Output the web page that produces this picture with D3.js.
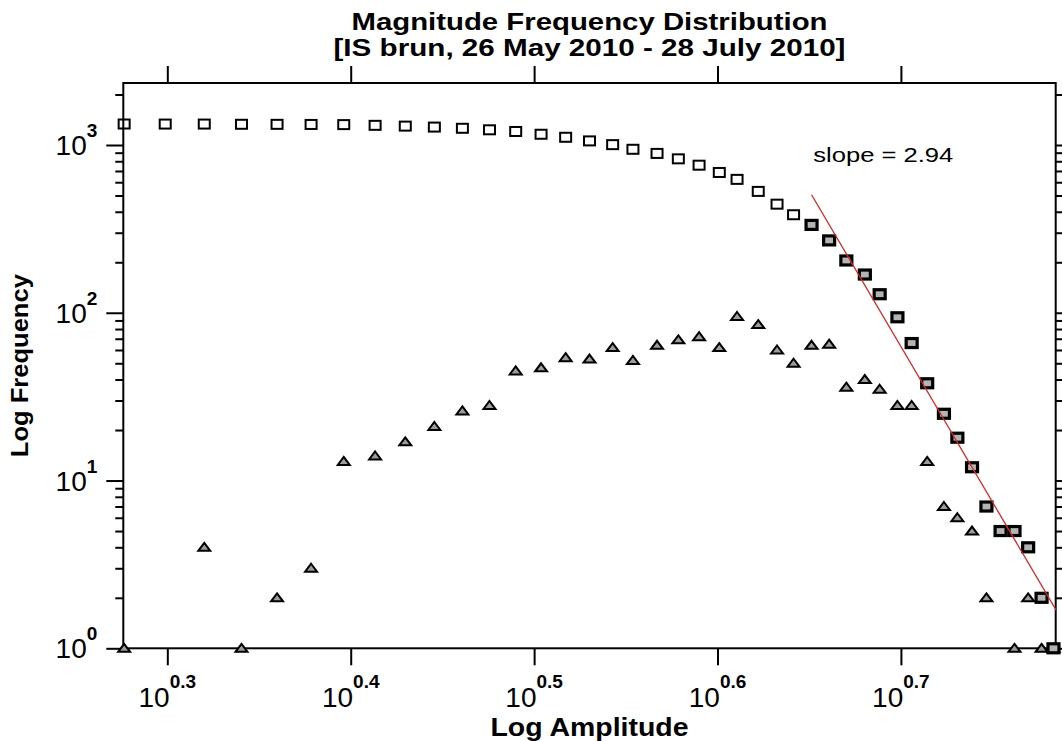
<!DOCTYPE html>
<html>
<head>
<meta charset="utf-8">
<script src="https://cdn.jsdelivr.net/npm/d3@7"></script>
<style>
  body { margin: 0; background: #fff; }
  svg { display: block; }
  text { font-family: "Liberation Sans", Arial, sans-serif; fill: #000; }
</style>
</head>
<body>
<div id="chart"></div>
<script>
// amplitude bins
var amplitude = [1.89, 1.99, 2.09, 2.19, 2.29, 2.39, 2.49, 2.59, 2.69, 2.79,
                 2.89, 2.99, 3.09, 3.19, 3.29, 3.39, 3.49, 3.58, 3.69, 3.79,
                 3.89, 3.99, 4.08, 4.19, 4.29, 4.38, 4.48, 4.58, 4.68, 4.79,
                 4.88, 4.99, 5.08, 5.18, 5.29, 5.38, 5.48, 5.58, 5.68, 5.78,
                 5.88, 5.98, 6.07];

// squares: cumulative number of events
var cumulative = [1334, 1333, 1333, 1329, 1328, 1326, 1323, 1310, 1296, 1279,
                  1258, 1232, 1204, 1159, 1112, 1058, 1005, 943, 891, 827,
                  758, 686, 624, 529, 444, 384, 334, 270, 205, 169,
                  129, 94, 66, 38, 25, 18, 12, 7, 5, 5,
                  4, 2, 1];

// triangles: events per bin (0 = not drawn on log axis)
var perBin = [1, 0, 4, 1, 2, 3, 13, 14, 17, 21,
              26, 28, 45, 47, 54, 53, 62, 52, 64, 69,
              72, 62, 95, 85, 60, 50, 64, 65, 36, 40,
              35, 28, 28, 13, 7, 6, 5, 2, 0, 1,
              2, 1, 1];

// first bin used for the fit (filled squares)
var fitFrom = 26;

// fitted line end points
var fitAmplitude = [4.48, 6.09];
var fitCount = [505, 1.69];
var slopeLabel = "slope = 2.94";

var xTickExp = [0.3, 0.4, 0.5, 0.6, 0.7];
var yTickExp = [0, 1, 2, 3];

var titleLines = ["Magnitude Frequency Distribution", "[IS brun, 26 May 2010 - 28 July 2010]"];
var xTitle = "Log Amplitude";
var yTitle = "Log Frequency";

var W = 1062, H = 741;
var margin = {top: 83, right: 6.3, bottom: 92.7, left: 123.3};
var width = W - margin.left - margin.right,
    height = H - margin.top - margin.bottom;

var svg = d3.select("#chart").append("svg")
    .attr("width", W)
    .attr("height", H);

var g = svg.append("g")
    .attr("transform", "translate(" + margin.left + "," + margin.top + ")");

var x = d3.scaleLog()
    .domain([Math.pow(10, 0.276), Math.pow(10, 0.7844)])
    .range([0, width]);

var y = d3.scaleLog()
    .domain([1, Math.pow(10, 3.3696)])
    .range([height, 0]);

var xTicks = xTickExp.map(function(e) { return Math.pow(10, e); });
var yMajor = yTickExp.map(function(e) { return Math.pow(10, e); });
var yMinor = [];
yTickExp.forEach(function(e) {
    for (var m = 2; m <= 9; m++) {
        var v = m * Math.pow(10, e);
        if (v < y.domain()[1]) yMinor.push(v);
    }
});

function styleAxis(sel) {
    sel.select(".domain").remove();
    sel.selectAll(".tick line").attr("stroke", "#000").attr("stroke-width", 2);
    sel.selectAll(".tick text").remove();
}

// ticks
g.append("g").attr("transform", "translate(0," + height + ")")
    .call(d3.axisBottom(x).tickValues(xTicks).tickSize(17)).call(styleAxis);
g.append("g")
    .call(d3.axisTop(x).tickValues(xTicks).tickSize(17)).call(styleAxis);
g.append("g")
    .call(d3.axisLeft(y).tickValues(yMajor).tickSize(17)).call(styleAxis);
g.append("g")
    .call(d3.axisLeft(y).tickValues(yMinor).tickSize(8)).call(styleAxis);
g.append("g").attr("transform", "translate(" + width + ",0)")
    .call(d3.axisRight(y).tickValues(yMajor).tickSize(17)).call(styleAxis);
g.append("g").attr("transform", "translate(" + width + ",0)")
    .call(d3.axisRight(y).tickValues(yMinor).tickSize(8)).call(styleAxis);

// frame
g.append("rect")
    .attr("width", width).attr("height", height)
    .attr("fill", "none").attr("stroke", "#000").attr("stroke-width", 2);

// tick labels as 10^exp
var xLab = g.append("g").selectAll("text").data(xTickExp).enter().append("text")
    .attr("x", function(d) { return x(Math.pow(10, d)); })
    .attr("y", height + 59)
    .attr("text-anchor", "middle");
xLab.append("tspan").attr("font-size", 28).text("10");
xLab.append("tspan").attr("font-size", 19).attr("font-weight", "bold").attr("dy", -19)
    .text(function(d) { return d.toFixed(1); });

var yLab = g.append("g").selectAll("text").data(yTickExp).enter().append("text")
    .attr("x", -26)
    .attr("y", function(d) { return y(Math.pow(10, d)) + 10; })
    .attr("text-anchor", "end");
yLab.append("tspan").attr("font-size", 28).text("10");
yLab.append("tspan").attr("font-size", 19).attr("font-weight", "bold").attr("dy", -18)
    .text(function(d) { return d; });

// per-bin triangles
var tri = perBin.map(function(v, i) { return {a: amplitude[i], v: v}; })
    .filter(function(d) { return d.v > 0; });

g.append("g").selectAll("path").data(tri).enter().append("path")
    .attr("transform", function(d) { return "translate(" + x(d.a) + "," + y(d.v) + ")"; })
    .attr("d", "M0,-4.5L6,3.5L-6,3.5Z")
    .attr("fill", "#9c9c9c")
    .attr("stroke", "#000")
    .attr("stroke-width", 2)
    .attr("stroke-linejoin", "miter");

// cumulative squares
var sq = cumulative.map(function(v, i) { return {a: amplitude[i], v: v, fit: i >= fitFrom}; });

g.append("g").selectAll("rect").data(sq).enter().append("rect")
    .attr("x", function(d) { return x(d.a) - 5.5; })
    .attr("y", function(d) { return y(d.v) - 4.5; })
    .attr("width", 11)
    .attr("height", 9)
    .attr("fill", function(d) { return d.fit ? "#b4b4b4" : "none"; })
    .attr("stroke", "#000")
    .attr("stroke-width", function(d) { return d.fit ? 3.2 : 2; });

// fitted line
g.append("line")
    .attr("x1", x(fitAmplitude[0])).attr("y1", y(fitCount[0]))
    .attr("x2", x(fitAmplitude[1])).attr("y2", y(fitCount[1]))
    .attr("stroke", "#d42a2a")
    .attr("stroke-width", 1.3);

g.append("text")
    .attr("x", 690).attr("y", 79)
    .attr("font-size", 20)
    .attr("textLength", 140).attr("lengthAdjust", "spacingAndGlyphs")
    .text(slopeLabel);

// titles
svg.append("text")
    .attr("x", margin.left + width / 2).attr("y", 30)
    .attr("text-anchor", "middle")
    .attr("font-size", 23).attr("font-weight", "bold")
    .attr("textLength", 476).attr("lengthAdjust", "spacingAndGlyphs")
    .text(titleLines[0]);
svg.append("text")
    .attr("x", margin.left + width / 2).attr("y", 56)
    .attr("text-anchor", "middle")
    .attr("font-size", 23).attr("font-weight", "bold")
    .attr("textLength", 512).attr("lengthAdjust", "spacingAndGlyphs")
    .text(titleLines[1]);

svg.append("text")
    .attr("x", margin.left + width / 2).attr("y", 736)
    .attr("text-anchor", "middle")
    .attr("font-size", 26).attr("font-weight", "bold")
    .attr("textLength", 198).attr("lengthAdjust", "spacingAndGlyphs")
    .text(xTitle);

svg.append("text")
    .attr("transform", "translate(28," + (margin.top + height / 2) + ") rotate(-90)")
    .attr("text-anchor", "middle")
    .attr("font-size", 23).attr("font-weight", "bold")
    .attr("textLength", 183).attr("lengthAdjust", "spacingAndGlyphs")
    .text(yTitle);
</script>
</body>
</html>
